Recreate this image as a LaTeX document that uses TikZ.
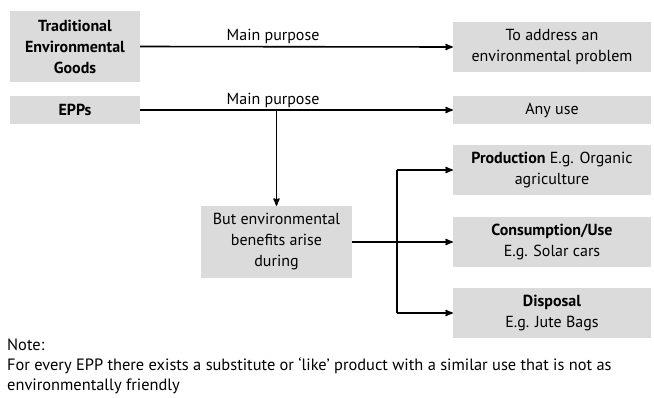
\documentclass[tikz,border=0pt]{standalone}
\usepackage{fontspec}
\setmainfont{PT Sans}
\usetikzlibrary{arrows,positioning}
\tikzset{
  box/.style = {rectangle, fill=black!14, align=center, inner sep=0pt,
    font=\fontsize{16}{21}\selectfont},% grey box
  box_b/.style = {box, font=\fontsize{16}{21}\selectfont\bfseries},% grey box, bold
  lbl/.style = {font=\fontsize{16}{20}\selectfont, inner sep=2pt},% arrow label
  flow/.style = {->, >=stealth', line width=1.6pt}
}
\begin{document}
\begin{tikzpicture}[x=1pt,y=-1pt]
\useasboundingbox (0,0) rectangle (654,397);
% left column
\node [box_b, minimum width=130pt, minimum height=71pt] (teg) at (75,46.5)
  {Traditional\\Environmental\\Goods};
\node [box_b, minimum width=130pt, minimum height=28pt] (epp) at (75,110) {EPPs};
% right column
\node [box, minimum width=198pt, minimum height=50pt] (addr) at (552,47)
  {To address an\\environmental problem};
\node [box, minimum width=198pt, minimum height=28pt] (any) at (552,110) {Any use};
\node [box, minimum width=198pt, minimum height=50pt] (prod) at (552,170)
  {\textbf{Production} E.g. Organic\\agriculture};
\node [box, minimum width=198pt, minimum height=50pt] (cons) at (552,242)
  {\textbf{Consumption/Use}\\E.g. Solar cars};
\node [box, minimum width=198pt, minimum height=50pt] (disp) at (552,313)
  {\textbf{Disposal}\\E.g. Jute Bags};
% middle
\node [box, minimum width=151pt, minimum height=72pt] (but) at (276.5,242)
  {But environmental\\benefits arise\\during};
\coordinate (split) at (397,242);

\draw [flow] (teg.east) -- node [lbl, above, pos=0.425] (mp1) {Main purpose} (addr.west);
\draw [flow] (epp.east) -- node [lbl, above, pos=0.425] (mp2) {Main purpose} (any.west);
\draw [flow] (epp.east -| but.north) -- (but.north);
\draw [flow] (but.east) -- (cons.west);
\draw [flow] (split |- prod.west) -- (prod.west);
\draw [line width=1.6pt] (split |- prod.west) -- (split |- disp.west);
\draw [flow] (split |- disp.west) -- (disp.west);

% note
\node [anchor=north west, align=left, inner sep=0pt,
  font=\fontsize{16.4}{20}\selectfont] (note) at (7,339)
  {Note:\\For every EPP there exists a substitute or `like' product with a similar use that is not as\\environmentally friendly};
\end{tikzpicture}
\end{document}
